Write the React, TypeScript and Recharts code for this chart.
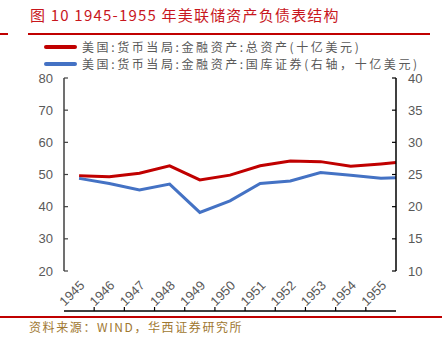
import React from "react";
import { LineChart, Line, XAxis, YAxis } from "recharts";

const xValues = [1945, 1946, 1947, 1948, 1949, 1950, 1951, 1952, 1953, 1954, 1955, 1955.5];
const totalAssets = [49.6, 49.3, 50.4, 52.7, 48.3, 49.8, 52.7, 54.2, 54.0, 52.6, 53.3, 53.7];
const treasuries = [24.4, 23.6, 22.6, 23.5, 19.1, 20.9, 23.6, 24.0, 25.3, 24.9, 24.4, 24.5];
const yearTicks = [1945, 1946, 1947, 1948, 1949, 1950, 1951, 1952, 1953, 1954, 1955];
const boundaryTicks = [1945.5, 1946.5, 1947.5, 1948.5, 1949.5, 1950.5, 1951.5, 1952.5, 1953.5, 1954.5];
const leftTicks = [20, 30, 40, 50, 60, 70, 80];
const rightTicks = [10, 15, 20, 25, 30, 35, 40];
const seriesNames = [
  "美国:货币当局:金融资产:总资产(十亿美元)",
  "美国:货币当局:金融资产:国库证券(右轴，十亿美元)",
];
const seriesColors = ["#c00000", "#4472c4"];
const title = "图 10 1945-1955 年美联储资产负债表结构";
const source = "资料来源：WIND，华西证券研究所";

const data = xValues.map((x, i) => ({ x, total: totalAssets[i], tsy: treasuries[i] }));

const CJK = '"Noto Sans CJK SC", sans-serif';
const NUM = '"Liberation Sans", Arial, sans-serif';
const GRAY = "#595959";

const XLabelTick = (props: any) => {
  const { x, y, payload } = props;
  return (
    <text
      x={x + 3}
      y={y + 1}
      transform={`rotate(-45 ${x + 3} ${y + 1})`}
      textAnchor="end"
      dy="0.35em"
      fill={GRAY}
      fontSize={13}
      fontFamily={NUM}
    >
      {String(payload.value)}
    </text>
  );
};

const EmptyTick = () => <g />;

export default function App() {
  return (
    <div style={{ position: "absolute", left: 0, top: 0, width: 442, height: 339, background: "#fff", overflow: "hidden" }}>
      <div style={{ position: "absolute", left: 30, top: 5, fontFamily: CJK, fontSize: 15, lineHeight: "20px", color: "#c8161d", whiteSpace: "nowrap", letterSpacing: 1.2 }}>
        {title}
      </div>
      <div style={{ position: "absolute", left: 0, top: 33, width: 8, height: 2, background: "#c00000" }} />
      <div style={{ position: "absolute", left: 28, top: 33, width: 402, height: 2, background: "#c00000" }} />
      {seriesNames.map((name, i) => (
        <div key={i} style={{ position: "absolute", left: 44, top: 39 + i * 17, height: 15, display: "flex", alignItems: "center", whiteSpace: "nowrap" }}>
          <div style={{ width: 33, height: 4, borderRadius: 2, background: seriesColors[i], marginRight: 5 }} />
          <span style={{ fontFamily: CJK, fontSize: 12, lineHeight: "14px", color: GRAY, letterSpacing: 2.6 }}>{name}</span>
        </div>
      ))}
      <LineChart
        width={442}
        height={339}
        data={data}
        margin={{ top: 78, right: 6, bottom: 27, left: 14 }}
      >
        <XAxis
          xAxisId="t"
          dataKey="x"
          type="number"
          domain={[1944.5, 1955.5]}
          ticks={boundaryTicks}
          tick={EmptyTick}
          tickSize={-4}
          height={1}
          interval={0}
          axisLine={{ stroke: "#000", strokeWidth: 1.5 }}
          tickLine={{ stroke: "#000", strokeWidth: 1.2 }}
          allowDecimals
        />
        <XAxis
          xAxisId="l"
          dataKey="x"
          type="number"
          domain={[1944.5, 1955.5]}
          ticks={yearTicks}
          tick={XLabelTick}
          interval={0}
          axisLine={false}
          tickLine={false}
          tickSize={6}
          tickMargin={5}
          height={40}
        />
        <YAxis
          yAxisId="left"
          orientation="left"
          domain={[20, 80]}
          ticks={leftTicks}
          interval={0}
          width={50}
          tickSize={-4}
          tickMargin={15}
          axisLine={{ stroke: "#404040", strokeWidth: 1.5 }}
          tickLine={{ stroke: "#404040", strokeWidth: 1.2 }}
          tick={{ fill: GRAY, fontSize: 13, fontFamily: NUM }}
        />
        <YAxis
          yAxisId="right"
          orientation="right"
          domain={[10, 40]}
          ticks={rightTicks}
          interval={0}
          width={40}
          tickSize={-4}
          tickMargin={16}
          axisLine={{ stroke: "#000", strokeWidth: 1.5 }}
          tickLine={{ stroke: "#000", strokeWidth: 1.2 }}
          tick={{ fill: GRAY, fontSize: 13, fontFamily: NUM, textAnchor: "start" }}
        />
        <Line
          xAxisId="t"
          yAxisId="left"
          type="linear"
          dataKey="total"
          stroke={seriesColors[0]}
          strokeWidth={3}
          dot={false}
          isAnimationActive={false}
        />
        <Line
          xAxisId="t"
          yAxisId="right"
          type="linear"
          dataKey="tsy"
          stroke={seriesColors[1]}
          strokeWidth={3}
          dot={false}
          isAnimationActive={false}
        />
      </LineChart>
      <div style={{ position: "absolute", left: 0, top: 316, width: 442, height: 2, background: "#c00000" }} />
      <div style={{ position: "absolute", left: 29, top: 319, fontFamily: CJK, fontSize: 12, lineHeight: "16px", color: "#a07830", whiteSpace: "nowrap", letterSpacing: 1.6 }}>
        {source}
      </div>
    </div>
  );
}
